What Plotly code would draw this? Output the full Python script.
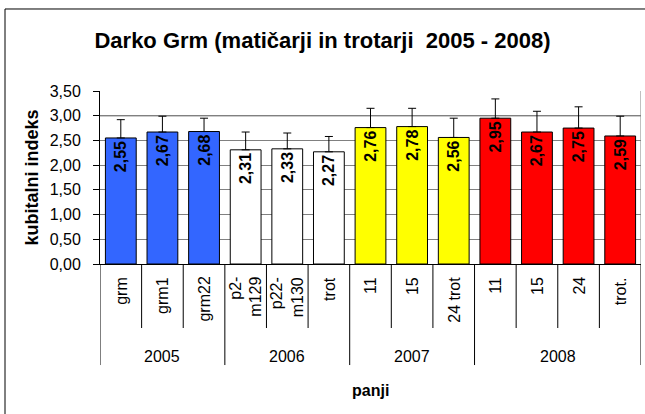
import plotly.graph_objects as go

categories = ["grm", "grm1", "grm22", "p2-<br>m129", "p22-<br>m130", "trot",
              "11", "15", "24 trot", "11", "15", "24", "trot."]
years = ["2005", "2005", "2005", "2006", "2006", "2006",
         "2007", "2007", "2007", "2008", "2008", "2008", "2008"]
values = [2.55, 2.67, 2.68, 2.31, 2.33, 2.27, 2.76, 2.78, 2.56, 2.95, 2.67, 2.75, 2.59]
errors = [0.37, 0.32, 0.27, 0.36, 0.32, 0.31, 0.39, 0.37, 0.39, 0.39, 0.42, 0.43, 0.40]
year_colors = {"2005": "#3366FF", "2006": "#FFFFFF", "2007": "#FFFF00", "2008": "#FF0000"}
y_ticks = [0, 0.5, 1, 1.5, 2, 2.5, 3, 3.5]

FONT = "Liberation Sans, Arial, sans-serif"
n = len(values)
xs = list(range(n))

fig = go.Figure()
fig.add_trace(go.Bar(
    x=xs, y=values,
    marker=dict(color=[year_colors[y] for y in years], line=dict(color="#000000", width=1)),
    text=[f"{v:.2f}".replace(".", ",") for v in values],
    textposition="inside", insidetextanchor="end", textangle=-90,
    textfont=dict(family=FONT, size=16, color="#000000", weight="bold"),
    error_y=dict(type="data", array=errors, arrayminus=[0] * n, symmetric=False,
                 color="#000000", thickness=1, width=4),
    showlegend=False,
    hoverinfo="skip",
))

shapes = []
annotations = []
# 3,00 dark gridline
shapes.append(dict(type="line", xref="paper", yref="y", x0=0, x1=1, y0=3, y1=3,
                   line=dict(color="#000000", width=1), layer="below"))
# right plot border
shapes.append(dict(type="line", xref="x", yref="y", x0=n - 0.5, x1=n - 0.5, y0=0, y1=3.5,
                   line=dict(color="#808080", width=1)))

# group boundaries
bounds = [0]
for i in range(1, n):
    if years[i] != years[i - 1]:
        bounds.append(i)
bounds.append(n)

for i in range(n + 1):
    is_group = i in bounds
    shapes.append(dict(type="line", xref="x", yref="paper", x0=i - 0.5, x1=i - 0.5,
                       y0=0, y1=-0.584 if is_group else -0.37,
                       line=dict(color="#000000", width=1)))

for i, c in enumerate(categories):
    annotations.append(dict(x=i, y=0, xref="x", yref="paper", text=c, showarrow=False,
                            textangle=-90, yanchor="top", xanchor="center", yshift=-11,
                            align="right", font=dict(family=FONT, size=16, color="#000000")))

for b0, b1 in zip(bounds[:-1], bounds[1:]):
    annotations.append(dict(x=(b0 + b1 - 1) / 2, y=0, xref="x", yref="paper", text=years[b0],
                            showarrow=False, yanchor="middle", yshift=-92,
                            font=dict(family=FONT, size=16, color="#000000")))

annotations.append(dict(x=0.5, y=0, xref="paper", yref="paper", text="<b>panji</b>",
                        showarrow=False, yanchor="middle", yshift=-126,
                        font=dict(family=FONT, size=16, color="#000000")))

# outer chart frame
shapes.append(dict(type="rect", xref="paper", yref="paper", x0=-0.1756, x1=1.05, y0=-0.95, y1=1.474,
                   line=dict(color="#000000", width=1), fillcolor="rgba(0,0,0,0)"))

fig.update_layout(
    width=645, height=414,
    margin=dict(l=100, r=4, t=91, b=150),
    paper_bgcolor="#FFFFFF", plot_bgcolor="#FFFFFF",
    separators=", ",
    bargap=0.26,
    hovermode=False,
    font=dict(family=FONT, size=16, color="#000000"),
    title=dict(text="<b>Darko Grm (matičarji in trotarji\u00a0 2005 - 2008)</b>",
               x=0.5, xanchor="center", y=1 - 40 / 414, yanchor="middle",
               font=dict(family=FONT, size=22, color="#000000")),
    xaxis=dict(range=[-0.5, n - 0.5], showticklabels=False, showgrid=False, zeroline=False,
               showline=True, linecolor="#000000", linewidth=1, ticks=""),
    yaxis=dict(range=[0, 3.5], tickvals=y_ticks, tickformat=".2f", showgrid=True,
               gridcolor="#808080", gridwidth=1, zeroline=False, showline=True,
               linecolor="#000000", linewidth=1, ticks="outside", ticklen=6,
               tickcolor="#000000", ticklabelstandoff=9, automargin=False,
               tickfont=dict(family=FONT, size=16, color="#000000"),
               title=dict(text="<b>kubitalni indeks</b>", standoff=6,
                          font=dict(family=FONT, size=18, color="#000000"))),
    shapes=shapes,
    annotations=annotations,
)

fig.write_html("out.html", config={"displayModeBar": False},
               post_script="document.body.style.margin='0';")
